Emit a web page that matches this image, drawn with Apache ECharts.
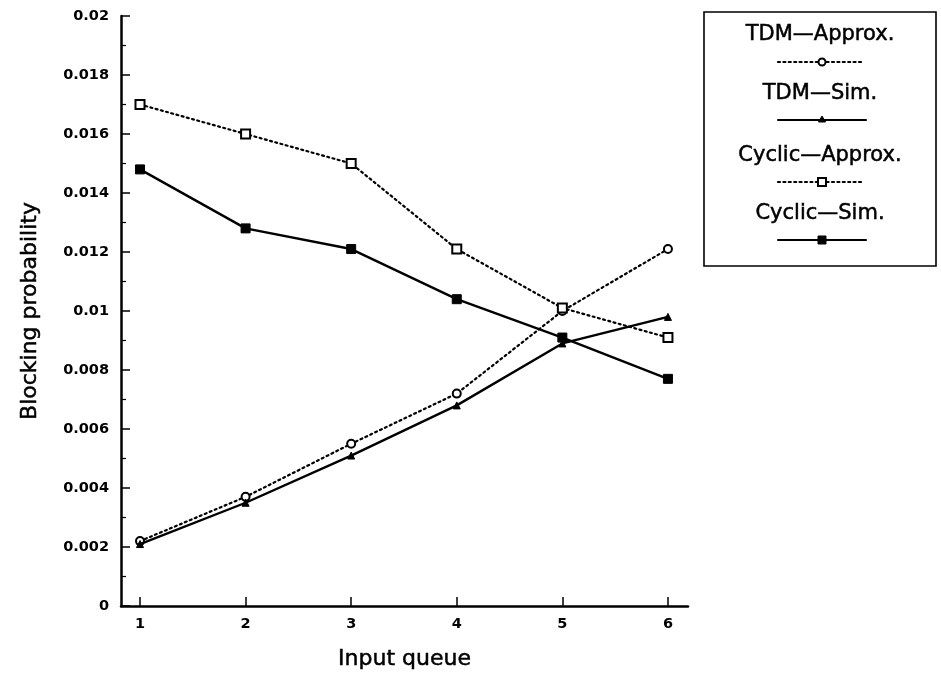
<!DOCTYPE html>
<html>
<head>
<meta charset="utf-8">
<title>Blocking probability vs input queue</title>
<script src="https://cdn.jsdelivr.net/npm/echarts@6/dist/echarts.min.js"></script>
<style>
  html, body { margin: 0; padding: 0; background: #fff; }
  #chart { width: 941px; height: 676px; }
</style>
</head>
<body>
<div id="chart"></div>
<script>
// Input queue positions (x) and blocking probabilities for each model
const queues = [1, 2, 3, 4, 5, 6];
const tdmApprox = [0.0022, 0.0037, 0.0055, 0.0072, 0.0100, 0.0121];
const tdmSim = [0.0021, 0.0035, 0.0051, 0.0068, 0.0089, 0.0098];
const cyclicApprox = [0.0170, 0.0160, 0.0150, 0.0121, 0.0101, 0.0091];
const cyclicSim = [0.0148, 0.0128, 0.0121, 0.0104, 0.0091, 0.0077];

const seriesNames = ['TDM\u2014Approx.', 'TDM\u2014Sim.', 'Cyclic\u2014Approx.', 'Cyclic\u2014Sim.'];
const yTicks = { min: 0, max: 0.02, step: 0.002 };

const INK = '#000';
const DOTS = [2, 3.4];
const FONT = '"DejaVu Sans", Verdana, sans-serif';
// a thin outline gives the captions a medium weight
const MEDIUM = { textBorderColor: INK, textBorderWidth: 0.5 };

const styles = [
  { values: tdmApprox, symbol: 'circle', size: 8, hollow: true, dotted: true },
  { values: tdmSim, symbol: 'triangle', size: 7, hollow: false, dotted: false },
  { values: cyclicApprox, symbol: 'rect', size: 9, hollow: true, dotted: true },
  { values: cyclicSim, symbol: 'rect', size: 9, hollow: false, dotted: false }
];

const series = styles.map((s, i) => ({
  name: seriesNames[i],
  type: 'line',
  data: queues.map((q, k) => [q, s.values[k]]),
  symbol: s.symbol,
  symbolSize: s.size,
  showAllSymbol: true,
  z: s.hollow ? 3 : 4,
  lineStyle: {
    color: INK,
    width: s.dotted ? 2.2 : 2.4,
    type: s.dotted ? DOTS : 'solid',
    cap: 'round'
  },
  itemStyle: {
    color: s.hollow ? '#fff' : INK,
    borderColor: INK,
    borderWidth: s.hollow ? 2 : 1
  },
  emphasis: { disabled: true },
  animation: false
}));

// Legend box: each entry is a caption with a line sample underneath
const legendBox = { x: 704, y: 12, w: 232, h: 254 };
const legendRows = [
  { text: 35, line: 62, x1: 778, x2: 862 },
  { text: 94, line: 120, x1: 778, x2: 866 },
  { text: 156, line: 182, x1: 778, x2: 862 },
  { text: 214, line: 240, x1: 778, x2: 866 }
];
const legendGraphics = [{
  type: 'rect',
  shape: { x: legendBox.x, y: legendBox.y, width: legendBox.w, height: legendBox.h },
  style: { fill: '#fff', stroke: INK, lineWidth: 1.6 },
  z: 10
}];
legendRows.forEach((r, i) => {
  const s = styles[i];
  const cx = 822;
  legendGraphics.push({
    type: 'text',
    x: legendBox.x + legendBox.w / 2, y: r.text,
    style: {
      text: seriesNames[i], fill: INK, font: '500 21px ' + FONT,
      align: 'center', verticalAlign: 'middle',
      stroke: INK, lineWidth: 0.5
    },
    z: 11
  });
  legendGraphics.push({
    type: 'line',
    shape: { x1: r.x1, y1: r.line, x2: r.x2, y2: r.line },
    style: {
      stroke: INK, lineWidth: 2.2,
      lineDash: s.dotted ? DOTS : null, lineCap: 'round'
    },
    z: 11
  });
  const fill = s.hollow ? '#fff' : INK;
  let marker;
  if (s.symbol === 'circle') {
    marker = { type: 'circle', shape: { cx: cx, cy: r.line, r: 3.5 },
      style: { fill: fill, stroke: INK, lineWidth: 2 } };
  } else if (s.symbol === 'triangle') {
    marker = { type: 'polygon', shape: { points: [[cx, r.line - 4], [cx - 3.5, r.line + 2], [cx + 3.5, r.line + 2]] },
      style: { fill: fill, stroke: INK, lineWidth: 1 } };
  } else {
    marker = { type: 'rect', shape: { x: cx - 4, y: r.line - 4, width: 8, height: 8 },
      style: { fill: fill, stroke: INK, lineWidth: s.hollow ? 2 : 1 } };
  }
  marker.z = 12;
  legendGraphics.push(marker);
});

const chart = echarts.init(document.getElementById('chart'), null, { renderer: 'canvas' });
chart.setOption({
  backgroundColor: '#fff',
  animation: false,
  grid: { left: 121, right: 253, top: 16, bottom: 70, containLabel: false },
  xAxis: {
    type: 'value',
    min: 0.82,
    max: 6.19,
    name: 'Input queue',
    nameLocation: 'middle',
    nameGap: 42,
    nameTextStyle: Object.assign({ color: INK, fontFamily: FONT, fontSize: 22, fontWeight: 500 }, MEDIUM),
    axisLine: { lineStyle: { color: INK, width: 2.5 } },
    axisTick: { show: true, inside: true, length: 9, lineStyle: { color: INK, width: 1.5 }, customValues: queues },
    axisLabel: { color: INK, fontFamily: FONT, fontSize: 14.5, fontWeight: 'bold', margin: 11, customValues: queues },
    splitLine: { show: false }
  },
  yAxis: {
    type: 'value',
    min: yTicks.min,
    max: yTicks.max,
    interval: yTicks.step,
    name: 'Blocking probability',
    nameLocation: 'middle',
    nameGap: 80,
    nameTextStyle: Object.assign({ color: INK, fontFamily: FONT, fontSize: 22, fontWeight: 500 }, MEDIUM),
    axisLine: { show: true, lineStyle: { color: INK, width: 2.5 } },
    axisTick: { show: true, inside: true, length: 9, lineStyle: { color: INK, width: 1.5 } },
    minorTick: { show: true, splitNumber: 2, length: 5, lineStyle: { color: INK, width: 1.2 } },
    axisLabel: { color: INK, fontFamily: FONT, fontSize: 14.5, fontWeight: 'bold', margin: 12 },
    splitLine: { show: false }
  },
  series: series,
  graphic: legendGraphics
});
</script>
</body>
</html>
